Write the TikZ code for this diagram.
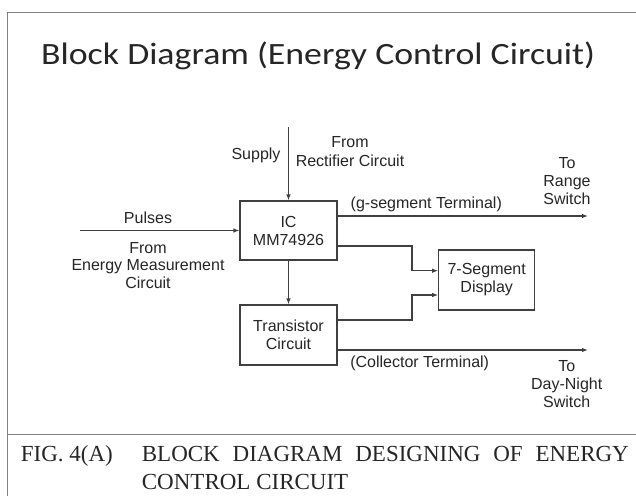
\documentclass[tikz,border=0pt]{standalone}
\usepackage{fontspec}
\setmainfont{Liberation Sans}
\newfontfamily\titlefont[FakeStretch=1.155]{Carlito}
\newfontfamily\capfont{Liberation Serif}
\usetikzlibrary{arrows.meta}
\begin{document}
\begin{tikzpicture}[x=1pt,y=-1pt,
  lbl/.style={font=\fontsize{16}{18}\selectfont, text=black!85, inner sep=0pt, align=center, anchor=base},
  blk/.style={draw=black!75, line width=1.1pt, minimum width=97pt, minimum height=59pt, inner sep=0pt,
              font=\fontsize{16}{18}\selectfont, text=black!85, align=center},
  arr/.style={draw=black!75, line width=1.1pt, -{Latex[length=6pt,width=4.5pt]}},
  framel/.style={draw=black!50, line width=1.3pt},
  captxt/.style={anchor=base west, inner sep=0pt, font=\capfont\fontsize{23}{28}\selectfont, text=black!85}]
\useasboundingbox (0,0) rectangle (636,495);
\fill[white] (0,0) rectangle (636,495);
% frame
\draw[framel] (7.3,496) -- (7.3,12.7) -- (640,12.7);
\draw[framel] (7.3,434.7) -- (640,434.7);
% title
\node[anchor=base west, inner sep=0pt, font=\titlefont\fontsize{31}{36}\selectfont, text=black!85] (title) at (41,64) {Block Diagram (Energy Control Circuit)};
% blocks
\node[blk] (ic) at (288.5,230.5) {IC\\MM74926};
\node[blk, minimum height=60pt] (tr) at (288.5,335) {Transistor\\Circuit};
\node[blk, minimum width=96pt, minimum height=60pt] (seg) at (486.7,280) {7-Segment\\Display};
% labels (anchor = baseline of the last line)
\node[lbl] (supply) at (256,159.3) {Supply};
\node[lbl, font=\fontsize{16}{19}\selectfont] (rect) at (350,166.7) {From\\Rectifier Circuit};
\node[lbl] (pulses) at (148,223.3) {Pulses};
\node[lbl, font=\fontsize{16}{17.5}\selectfont] (energy) at (148,288.3) {From\\Energy Measurement\\Circuit};
\node[lbl] (gseg) at (426.3,208.3) {(g-segment Terminal)};
\node[lbl] (range) at (567,204.3) {To\\Range\\Switch};
\node[lbl] (coll) at (419.7,367.3) {(Collector Terminal)};
\node[lbl] (daynight) at (566.7,407.3) {To\\Day-Night\\Switch};
% caption
\node[captxt] (fig) at (20.7,461) {FIG. 4(A)};
\node[captxt] (cap1) at (141.7,461) {\makebox[487pt][s]{BLOCK DIAGRAM DESIGNING OF ENERGY}};
\node[captxt] (cap2) at (141.7,489.5) {CONTROL CIRCUIT};
% connector coordinates
\coordinate (supin) at (288.5,127);
\coordinate (pulin) at (80,230.5);
\coordinate (gend) at (588,216);
\coordinate (cend) at (588,350);
\coordinate (j1) at (412,246);
\coordinate (j2) at (412,320);
\coordinate (s1) at (439,270.7);
\coordinate (s2) at (439,295);
% connectors
\draw[arr] (supin) -- (ic.north);
\draw[arr] (pulin) -- (ic.west);
\draw[arr] (ic.east |- gend) -- (gend);
\draw[arr] (ic.east |- j1) -- (j1) |- (seg.west |- s1);
\draw[arr] (ic.south) -- (tr.north);
\draw[arr] (tr.east |- j2) -- (j2) |- (seg.west |- s2);
\draw[arr] (tr.east |- cend) -- (cend);
\end{tikzpicture}
\end{document}
